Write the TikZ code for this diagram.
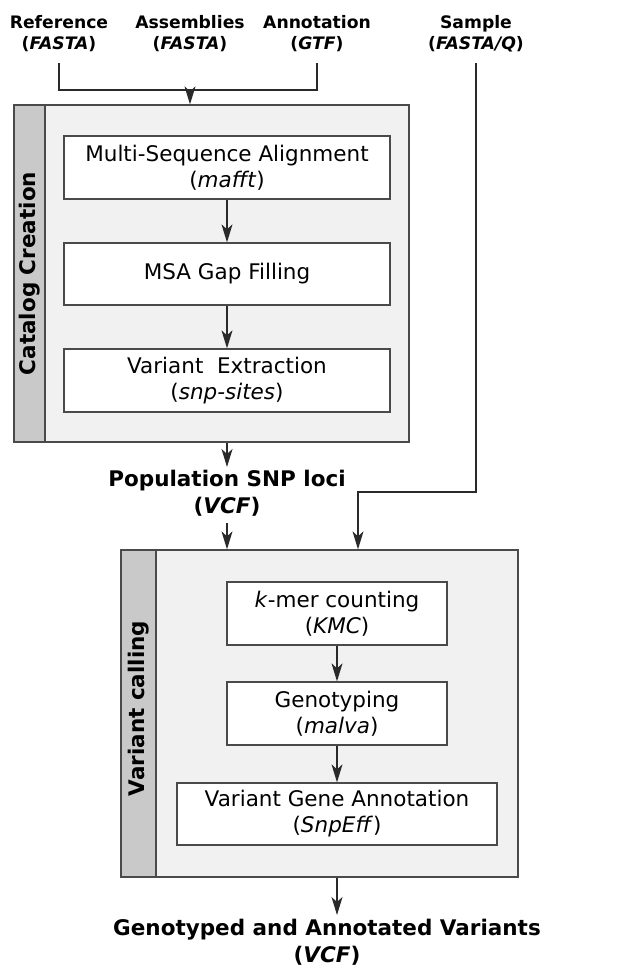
\documentclass[tikz,border=0pt]{standalone}
\usepackage{fontspec}
\setmainfont{DejaVu Sans}
\usepackage{tikz}
\usetikzlibrary{arrows.meta,positioning,calc}
\definecolor{panelFill}{HTML}{F1F1F1}
\definecolor{panelBar}{HTML}{C9C9C9}
\definecolor{panelBd}{HTML}{4A4A4A}
\definecolor{lineCol}{HTML}{2A2A2A}
\newcommand{\iofont}{\fontsize{17.2}{21}\selectfont\bfseries}
\newcommand{\resfont}{\fontsize{21.5}{26.5}\selectfont\bfseries}
\newcommand{\stepfont}{\fontsize{21.5}{26}\selectfont}
\tikzset{
  panel/.style={
    rectangle, draw=panelBd, fill=panelFill, line width=1.3pt,
    inner sep=0pt
  },
  bar/.style={
    rectangle, draw=panelBd, fill=panelBar, line width=1.3pt,
    inner sep=0pt, font=\resfont
  },
  tool/.style={
    rectangle, draw=panelBd, fill=white, line width=1.3pt,
    align=center, inner sep=0pt, font=\stepfont
  },
  io/.style={align=center, inner sep=0pt, font=\iofont},
  res/.style={align=center, inner sep=0pt, font=\resfont},
  flow/.style={-{Stealth[length=18pt,width=11pt,inset=5pt]}, line width=1.3pt, draw=lineCol},
  link/.style={line width=1.3pt, draw=lineCol}
}

\begin{document}
\begin{tikzpicture}[x=1pt,y=-1pt]
  \useasboundingbox (0,0) rectangle (619,968);

  % inputs
  \node[io] (ref) at (59,34)  {Reference\\(\textit{FASTA})};
  \node[io] (asm) at (190,34) {Assemblies\\(\textit{FASTA})};
  \node[io] (ann) at (317,34) {Annotation\\(\textit{GTF})};
  \node[io] (smp) at (476,34) {Sample\\(\textit{FASTA/Q})};

  % catalog creation panel
  \node[panel, minimum width=395pt, minimum height=337pt] (cat) at (211.5,273.5) {};
  \node[bar, rotate=90, minimum width=337pt, minimum height=31pt] (catbar) at (29.5,273.5) {Catalog Creation};
  \node[tool, minimum width=326pt, minimum height=63pt] (msa) at (227,167.5) {Multi-Sequence Alignment\\(\textit{mafft})};
  \node[tool, minimum width=326pt, minimum height=62pt] (gap) at (227,274)   {MSA Gap Filling};
  \node[tool, minimum width=326pt, minimum height=63pt] (ext) at (227,380.5) {Variant\ \ Extraction\\(\textit{snp-sites})};

  % catalog output
  \node[res] (pop) at (227,493) {Population SNP loci\\(\textit{VCF})};

  % variant calling panel
  \node[panel, minimum width=397pt, minimum height=327pt] (var) at (319.5,713.5) {};
  \node[bar, rotate=90, minimum width=327pt, minimum height=35pt] (varbar) at (138.5,713.5) {\hspace*{10pt}Variant calling};
  \node[tool, minimum width=220pt, minimum height=63pt] (kmer) at (337,613.5) {\textit{k}-mer counting\\(\textit{KMC})};
  \node[tool, minimum width=220pt, minimum height=63pt] (geno) at (337,713.5) {Genotyping\\(\textit{malva})};
  \node[tool, minimum width=320pt, minimum height=62pt] (sga)  at (337,814)   {Variant Gene Annotation\\(\textit{SnpEff})};

  % final output
  \node[res] (out) at (327,942) {Genotyped and Annotated Variants\\(\textit{VCF})};

  % input connectors
  \coordinate (join) at (190,90);
  \coordinate (bend) at (358,492);
  \draw[link, shorten <=11pt, shorten >=11pt] (ref.south) |- (join) -| (ann.south);
  \draw[flow] (join) -- (join |- cat.north);
  \draw[flow, shorten <=11pt] (smp.south) |- (bend) -- (bend |- var.north);

  % catalog steps
  \draw[flow] (msa) -- (gap);
  \draw[flow] (gap) -- (ext);
  \draw[flow] (msa |- cat.south) -- ([yshift=3pt]pop.north);
  \draw[flow, shorten <=7pt] (pop.south) -- (pop.south |- var.north);

  % calling steps
  \draw[flow] (kmer) -- (geno);
  \draw[flow] (geno) -- (sga);
  \draw[flow] (sga |- var.south) -- ([yshift=4pt]sga |- out.north);
\end{tikzpicture}
\end{document}
